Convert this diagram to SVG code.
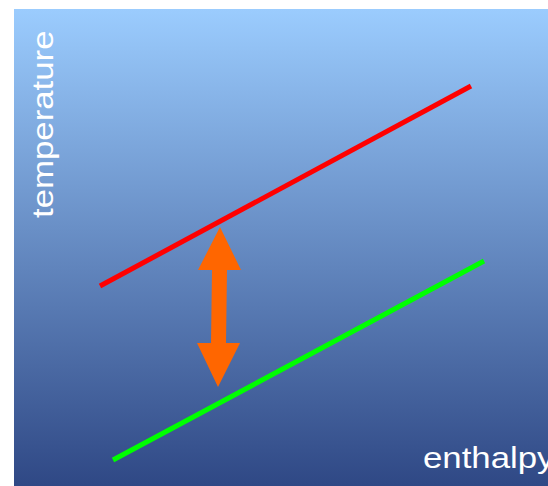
<svg xmlns="http://www.w3.org/2000/svg" width="548" height="486" viewBox="0 0 548 486">
<defs>
<linearGradient id="bg" x1="0" y1="0" x2="0" y2="1">
<stop offset="0" stop-color="#9BCCFE"/>
<stop offset="1" stop-color="#2F4885"/>
</linearGradient>
</defs>
<style>
.lbl{font-family:"Liberation Sans",Arial,sans-serif;fill:#FFFFFF;font-size:29px;}
.ln{stroke-width:5;fill:none;stroke-linecap:butt;}
</style>
<rect x="14" y="9" width="534" height="477" fill="url(#bg)"/>
<g id="connectors">
<line id="hot" class="ln" x1="100" y1="286" x2="471" y2="86" stroke="#FF0000"/>
<line id="cold" class="ln" x1="113" y1="460" x2="484" y2="261" stroke="#00FF00"/>
<polygon id="arrow" points="220,227 241,270 227,270 226,343 240,343 218,387 197,343 211,343 212,270 198,270" fill="#FF6600"/>
</g>
<g id="temperature">
<text class="lbl" x="0" y="0" transform="translate(53,218) rotate(-90) scale(1.2,1)">temperature</text>
</g>
<g id="enthalpy">
<text class="lbl" x="0" y="0" transform="translate(423,468) scale(1.2,1)">enthalpy</text>
</g>
</svg>
